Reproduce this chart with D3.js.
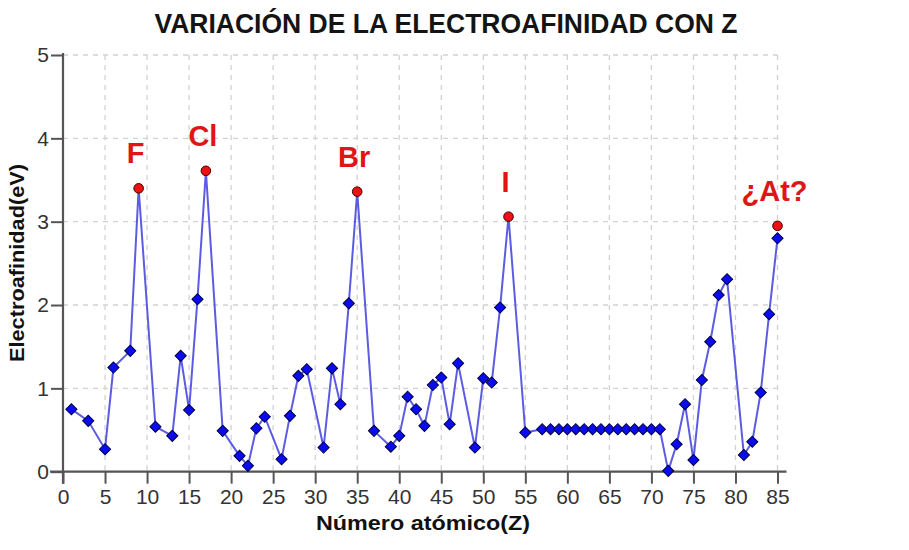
<!DOCTYPE html>
<html>
<head>
<meta charset="utf-8">
<script src="https://cdn.jsdelivr.net/npm/d3@7"></script>
<style>
  html, body { margin: 0; padding: 0; background: #fff; }
  svg { display: block; font-family: "Liberation Sans", Arial, sans-serif; }
</style>
</head>
<body>
<div id="chart"></div>
<script>
// ---- data ----
const atomicNumbers = [1,3,5,6,8,9,11,13,14,15,16,17,19,21,22,23,24,26,27,28,29,31,32,33,34,35,37,39,40,41,42,43,44,45,46,47,49,50,51,52,53,55,
  57,58,59,60,61,62,63,64,65,66,67,68,69,70,71,72,73,74,75,76,77,78,79,81,82,83,84,85];
const affinities = [0.75,0.61,0.27,1.25,1.45,3.40,0.54,0.43,1.39,0.74,2.07,3.61,0.49,0.19,0.07,0.52,0.66,0.15,0.67,1.15,1.23,0.29,1.24,0.81,2.02,3.36,0.49,0.30,0.43,0.90,0.75,0.55,1.04,1.13,0.57,1.30,0.29,1.12,1.07,1.97,3.06,0.47,
  0.51,0.51,0.51,0.51,0.51,0.51,0.51,0.51,0.51,0.51,0.51,0.51,0.51,0.51,0.51,0.01,0.33,0.81,0.14,1.10,1.56,2.12,2.31,0.20,0.36,0.95,1.89,2.80];
const peakNames = ["F","Cl","Br","I","¿At?"];
const peakZ = [9,17,35,53,85];
const peakValues = [3.40,3.61,3.36,3.06,2.95];
const xTicks = [0,5,10,15,20,25,30,35,40,45,50,55,60,65,70,75,80,85];
const yTicks = [0,1,2,3,4,5];
const titleText = "VARIACIÓN DE LA ELECTROAFINIDAD CON Z";
const xTitle = "Número atómico(Z)";
const yTitle = "Electroafinidad(eV)";

// ---- layout ----
const W = 909, H = 550;
const m = { left: 63, top: 55, right: 131.5, bottom: 78.3 };
const pw = W - m.left - m.right, ph = H - m.top - m.bottom;

const svg = d3.select("#chart").append("svg").attr("width", W).attr("height", H);
svg.append("rect").attr("width", W).attr("height", H).attr("fill", "#fff");

const x = d3.scaleLinear().domain([0, 85]).range([0, pw]);
const y = d3.scaleLinear().domain([0, 5]).range([ph, 0]);

const g = svg.append("g").attr("transform", `translate(${m.left},${m.top})`);

// grid
const grid = g.append("g").attr("stroke", "#d2d2d2").attr("stroke-width", 1.3).attr("stroke-dasharray", "5,5");
grid.selectAll("line.h").data(yTicks.filter(d => d > 0)).join("line")
  .attr("x1", 0).attr("x2", x(85)).attr("y1", d => y(d)).attr("y2", d => y(d));
grid.selectAll("line.v").data(xTicks.filter(d => d > 0)).join("line")
  .attr("x1", d => x(d)).attr("x2", d => x(d)).attr("y1", 0).attr("y2", ph);

// axes
const axisColor = "#555";
const tickFont = "'Liberation Sans', Arial, sans-serif";
const xAxis = g.append("g").attr("transform", `translate(0,${ph})`)
  .call(d3.axisBottom(x).tickValues(xTicks).tickFormat(d3.format("d")).tickSize(12).tickPadding(5).tickSizeOuter(0));
xAxis.select(".domain").remove();
xAxis.append("line").attr("x1", -13).attr("x2", x(85) + 9).attr("y1", 0).attr("y2", 0)
  .attr("stroke", axisColor).attr("stroke-width", 2.2);
xAxis.selectAll(".tick line").attr("stroke", axisColor).attr("stroke-width", 2);
xAxis.selectAll(".tick text").attr("font-size", 21).attr("fill", "#333").attr("font-family", tickFont);

const yAxis = g.append("g")
  .call(d3.axisLeft(y).tickValues(yTicks).tickFormat(d3.format("d")).tickSize(12).tickPadding(2).tickSizeOuter(0));
yAxis.select(".domain").remove();
yAxis.append("line").attr("x1", 0).attr("x2", 0).attr("y1", -2).attr("y2", ph + 12)
  .attr("stroke", axisColor).attr("stroke-width", 2.2);
yAxis.selectAll(".tick line").attr("stroke", axisColor).attr("stroke-width", 2);
yAxis.selectAll(".tick text").attr("font-size", 21).attr("fill", "#333").attr("font-family", tickFont);

// line
const pts = atomicNumbers.map((z, i) => ({ z, v: affinities[i] }));
const line = d3.line().x(d => x(d.z)).y(d => y(d.v));
g.append("path").datum(pts).attr("d", line)
  .attr("fill", "none").attr("stroke", "#4a4ae0").attr("stroke-width", 2).attr("stroke-opacity", 0.9);

// diamonds
const peakSet = new Set(peakZ.slice(0, 4));
const diamond = d3.symbol().type(d3.symbolSquare).size(62);
g.selectAll("path.pt").data(pts.filter(d => !peakSet.has(d.z))).join("path")
  .attr("class", "pt").attr("d", diamond)
  .attr("transform", d => `translate(${x(d.z)},${y(d.v)}) rotate(45)`)
  .attr("fill", "#0b0bf0").attr("stroke", "#000045").attr("stroke-width", 1);

// highlighted points
const peaks = peakNames.map((n, i) => ({ n, z: peakZ[i], v: peakValues[i] }));
g.selectAll("circle.pk").data(peaks).join("circle")
  .attr("cx", d => x(d.z)).attr("cy", d => y(d.v)).attr("r", 4.8)
  .attr("fill", "#ee1111").attr("stroke", "#3a0000").attr("stroke-width", 1);

g.selectAll("text.pk").data(peaks).join("text")
  .attr("x", d => x(d.z) - 3).attr("y", d => y(d.v) - 25)
  .attr("text-anchor", "middle").attr("font-size", 29).attr("font-weight", "bold")
  .attr("fill", "#e01515").text(d => d.n);

// titles
svg.append("text").attr("x", 446).attr("y", 32.5).attr("text-anchor", "middle")
  .attr("font-size", 27).attr("font-weight", "bold").attr("fill", "#141414")
  .attr("textLength", 583).attr("lengthAdjust", "spacingAndGlyphs")
  .text(titleText);

svg.append("text").attr("x", 423).attr("y", 530).attr("text-anchor", "middle")
  .attr("font-size", 21).attr("font-weight", "bold").attr("fill", "#111")
  .attr("textLength", 214).attr("lengthAdjust", "spacingAndGlyphs")
  .text(xTitle);

svg.append("text").attr("transform", "translate(24,263) rotate(-90)").attr("text-anchor", "middle")
  .attr("font-size", 21).attr("font-weight", "bold").attr("fill", "#111")
  .attr("textLength", 198).attr("lengthAdjust", "spacingAndGlyphs")
  .text(yTitle);
</script>
</body>
</html>
